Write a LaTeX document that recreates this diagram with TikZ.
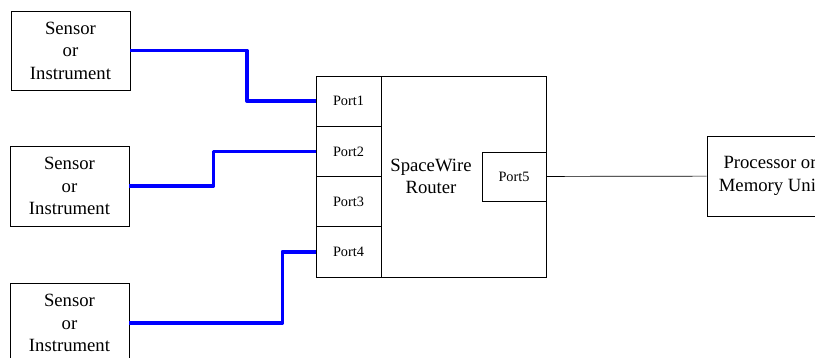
\documentclass[tikz,border=0pt]{standalone}
\usepackage{fontspec}
\setmainfont{Liberation Serif}
\usepackage{tikz}
\usetikzlibrary{positioning}

\begin{document}
\begin{tikzpicture}[x=1pt, y=-1pt, every node/.style={font=\fontsize{18.7}{22.5}\selectfont}, box/.style={draw, line width=0.7pt, align=center, inner sep=0pt, minimum width=119pt, minimum height=80pt}, port/.style={draw, line width=0.7pt, inner sep=0pt, outer sep=0pt, font=\fontsize{14.3}{17}\selectfont, minimum width=65pt, minimum height=50.25pt}, link/.style={draw=blue, line width=3.6pt, line join=round}]
\useasboundingbox (0,0) rectangle (815,358);
\node[box, minimum height=79pt] (sen1) at (70.5,50.5) {Sensor\\or\\Instrument};
\node[box] (sen2) at (69.5,186) {Sensor\\or\\Instrument};
\node[box] (sen3) at (69.5,323) {Sensor\\or\\Instrument};
\node[draw, line width=0.7pt, align=center, inner sep=0pt, outer sep=0pt, minimum width=230pt, minimum height=201pt] (router) at (431,176.5) {SpaceWire\\Router};
\node[port, anchor=north west] (port1) at (router.north west) {Port1};
\node[port, below=0pt of port1] (port2) {Port2};
\node[port, below=0pt of port2] (port3) {Port3};
\node[port, below=0pt of port3] (port4) {Port4};
\node[port, anchor=east, minimum width=64pt, minimum height=49pt] (port5) at (router.east) {Port5};
\node[box, minimum width=126pt] (proc) at (770,176) {Processor or\\Memory Unit};
\draw[link] (sen1.east) -- ++(116.5,0) |- (port1.west);
\draw[link] (sen2.east) -- ++(84,0) |- (port2.west);
\draw[link] (sen3.east) -- ++(153,0) |- (port4.west);
\draw[line width=0.7pt] (port5) -- (proc);
\end{tikzpicture}
\end{document}
